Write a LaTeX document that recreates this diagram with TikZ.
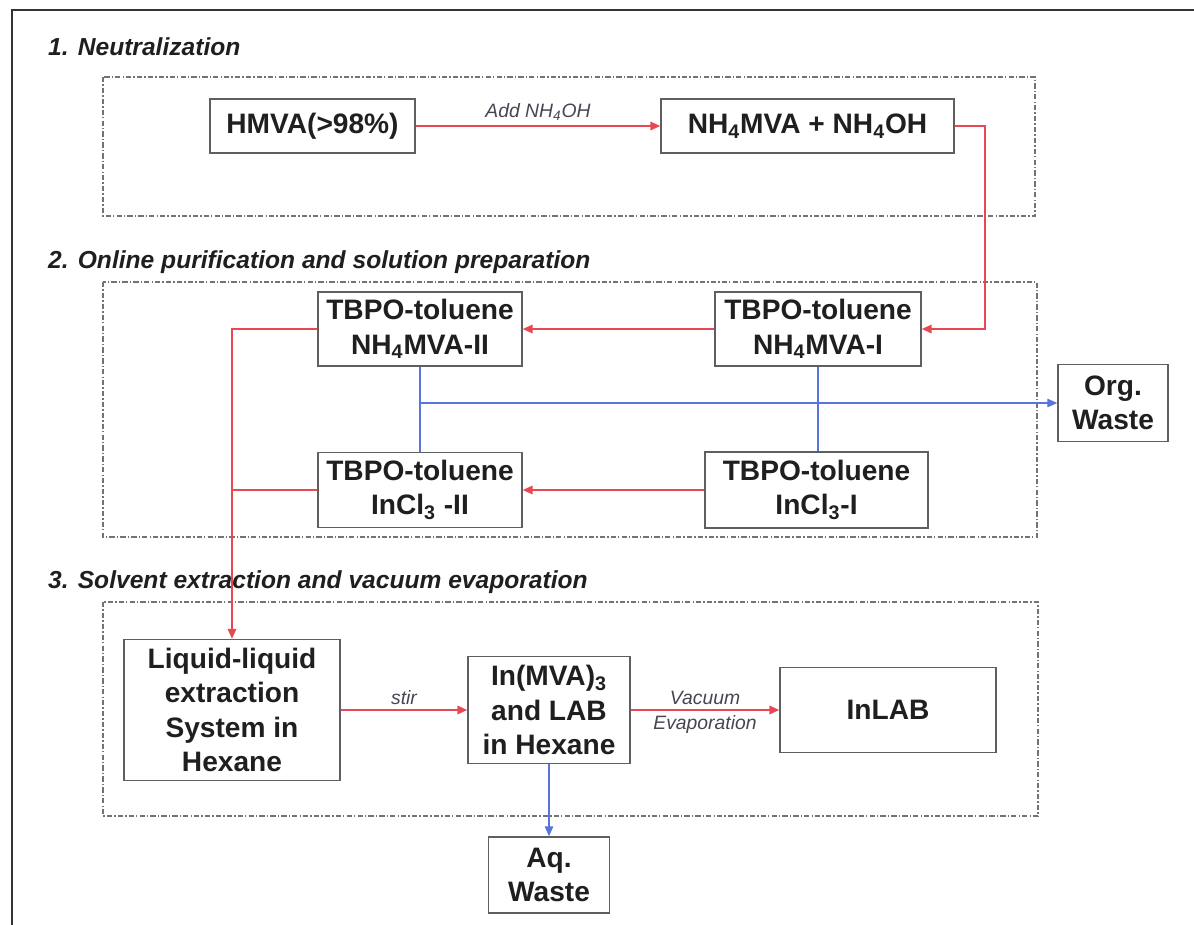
\documentclass[tikz,border=0pt]{standalone}
\usepackage{fontspec}
\setmainfont{Liberation Sans}
\usepackage{tikz}
\usetikzlibrary{arrows.meta,positioning,calc}

\definecolor{flowred}{RGB}{232,72,82}
\definecolor{flowblue}{RGB}{88,116,222}
\definecolor{boxline}{RGB}{95,95,95}
\definecolor{labelgray}{RGB}{70,70,82}

\begin{document}
\begin{tikzpicture}[
    every node/.style={font=\fontsize{16}{19.5}\selectfont\bfseries, text=black!88},
    unit/.style={draw=boxline, fill=white, line width=0.8pt,
                 align=center, inner sep=0pt},
    stage/.style={draw=black!55, line width=0.6pt,
                  dash pattern=on 3pt off 1.2pt on 0.8pt off 1.2pt},
    stagehead/.style={anchor=west, font=\fontsize{14}{17}\selectfont\bfseries\itshape},
    feed/.style={flowred, line width=1.1pt},
    flow/.style={feed, -{Triangle[length=2mm,width=1.7mm]}},
    waste/.style={flowblue, line width=0.7pt},
    wasteto/.style={waste, -{Triangle[length=2mm,width=1.7mm]}},
    tag/.style={font=\fontsize{11}{12}\selectfont\itshape, text=labelgray, inner sep=2.5pt},
]

\useasboundingbox (0,0) rectangle (23.88,-18.48);
\clip (0,0) rectangle (23.88,-18.48);

% ── column / row positions ──────────────────────────────────
\def\xT{4.64}    % trunk + extraction
\def\xII{8.40}   % stage II
\def\xI{16.36}   % stage I
\def\yA{-2.52}   % neutralization row
\def\yB{-6.58}   % NH4MVA row
\def\yW{-8.06}   % organic waste line
\def\yC{-9.80}   % InCl3 row
\def\yD{-14.20}  % extraction row
\def\yE{-17.50}  % aqueous waste

% frame
\draw[black!80, line width=1.6pt] (0.24,-19) -- (0.24,-0.2) -- (24.5,-0.2);

% ════ 1. NEUTRALIZATION ══════════════════════════════════════
\node[stagehead] (h1) at (0.84,-0.94) {1. Neutralization};
\draw[stage] (2.06,-1.54) rectangle (20.70,-4.32);

\node[unit, minimum width=4.10cm, minimum height=1.08cm] (hmva) at (6.25,\yA) {HMVA(>98\%)};
\node[unit, minimum width=5.86cm, minimum height=1.08cm] (neut) at (16.15,\yA)
    {NH\textsubscript{4}MVA + NH\textsubscript{4}OH};

\draw[flow] (hmva) -- node[tag, above, midway]{Add NH\textsubscript{4}OH} (neut);

% ════ 2. ONLINE PURIFICATION ════════════════════════════════
\node[stagehead] (h2) at (0.84,-5.24) {2. Online purification and solution preparation};
\draw[stage] (2.06,-5.64) rectangle (20.74,-10.74);

\node[unit, minimum width=4.08cm, minimum height=1.48cm] (mvaII) at (\xII,\yB)
    {TBPO-toluene\\NH\textsubscript{4}MVA-II};
\node[unit, minimum width=4.12cm, minimum height=1.48cm] (mvaI) at (\xI,\yB)
    {TBPO-toluene\\NH\textsubscript{4}MVA-I};
\node[unit, minimum width=4.08cm, minimum height=1.50cm] (inclII) at (\xII,\yC)
    {TBPO-toluene\\InCl\textsubscript{3} -II};
\node[unit, minimum width=4.46cm, minimum height=1.52cm] (inclI) at (16.33,\yC)
    {TBPO-toluene\\InCl\textsubscript{3}-I};
\node[unit, minimum width=2.20cm, minimum height=1.54cm] (org) at (22.26,\yW)
    {Org.\\Waste};

% feed into stage I
\draw[flow] (neut.east) -- ++(0.6,0) |- (mvaI.east);

% stage I -> stage II
\draw[flow] (mvaI) -- (mvaII);
\draw[flow] (inclI) -- (inclII);

% organic phase to waste
\draw[waste] (mvaII.south) -- (inclII.north);
\draw[waste] (mvaI.south) -- (mvaI.south |- inclI.north);
\draw[wasteto] (mvaII.south |- org.west) -- (org.west);

% ════ 3. SOLVENT EXTRACTION ═════════════════════════════════
\node[stagehead] (h3) at (0.84,-11.64) {3. Solvent extraction and vacuum evaporation};
\draw[stage] (2.06,-12.04) rectangle (20.76,-16.32);

\node[unit, minimum width=4.32cm, minimum height=2.82cm] (liq) at (\xT,\yD)
    {Liquid-liquid\\extraction\\System in\\Hexane};
\node[unit, minimum width=3.24cm, minimum height=2.14cm] (inmva) at (10.98,\yD)
    {In(MVA)\textsubscript{3}\\and LAB\\in Hexane};
\node[unit, minimum width=4.32cm, minimum height=1.70cm] (inlab) at (17.76,\yD) {InLAB};
\node[unit, minimum width=2.42cm, minimum height=1.52cm] (aq) at (10.98,\yE)
    {Aq.\\Waste};

% trunk from stage II down to extraction
\draw[feed] (inclII.west) -- (inclII.west -| liq.north);
\draw[flow] (mvaII.west) -| (liq.north);

\draw[flow] (liq) -- node[tag, above, midway]{stir} (inmva);
\draw[flow] (inmva) --
    node[tag, above, midway]{Vacuum}
    node[tag, below, midway]{Evaporation}
    (inlab);
\draw[wasteto] (inmva) -- (aq);

\end{tikzpicture}
\end{document}
